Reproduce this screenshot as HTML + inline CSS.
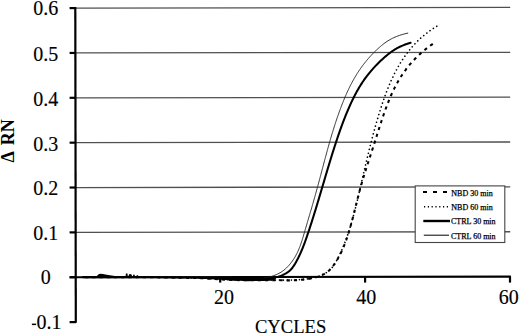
<!DOCTYPE html>
<html><head><meta charset="utf-8"><style>
html,body{margin:0;padding:0;background:#fff;width:520px;height:335px;overflow:hidden}
svg{display:block}
.g{stroke:#505050;stroke-width:1.3}
.ax{stroke:#000;stroke-width:2.2}
.yl,.xl{font-family:"Liberation Serif",serif;font-size:20px;text-anchor:middle;fill:#000;stroke:#000;stroke-width:0.15}
.lg{font-family:"Liberation Serif",serif;font-size:8px;fill:#000;stroke:#000;stroke-width:0.25}
.yt{font-family:'Liberation Serif',serif;font-weight:bold;font-size:18px;fill:#000}
.c{fill:none;stroke:#000;stroke-linecap:round;stroke-linejoin:round}
</style></head><body>
<svg width="520" height="335" viewBox="0 0 520 335">
<rect width="520" height="335" fill="#fff"/>
<line x1="76" y1="8.09" x2="510.2" y2="7.44" class="g"/>
<line x1="76" y1="52.95" x2="510.2" y2="52.30" class="g"/>
<line x1="76" y1="97.81" x2="510.2" y2="97.16" class="g"/>
<line x1="76" y1="142.67" x2="510.2" y2="142.02" class="g"/>
<line x1="76" y1="187.53" x2="510.2" y2="186.88" class="g"/>
<line x1="76" y1="232.39" x2="510.2" y2="231.74" class="g"/>

<line x1="75.3" y1="7.0" x2="75.8" y2="322.8" class="ax"/>
<line x1="69.6" y1="277.26" x2="510.9" y2="276.60" class="ax"/>
<line x1="69.6" y1="8.09" x2="76" y2="8.09" class="ax"/>
<line x1="69.6" y1="52.95" x2="76" y2="52.95" class="ax"/>
<line x1="69.6" y1="97.81" x2="76" y2="97.81" class="ax"/>
<line x1="69.6" y1="142.67" x2="76" y2="142.67" class="ax"/>
<line x1="69.6" y1="187.53" x2="76" y2="187.53" class="ax"/>
<line x1="69.6" y1="232.39" x2="76" y2="232.39" class="ax"/>
<line x1="69.6" y1="277.25" x2="76" y2="277.25" class="ax"/>
<line x1="69.6" y1="322.11" x2="76" y2="322.11" class="ax"/>
<line x1="220.2" y1="277.03" x2="220.2" y2="282.6" class="ax"/>
<line x1="365.1" y1="276.82" x2="365.1" y2="282.6" class="ax"/>
<line x1="510.0" y1="276.60" x2="510.0" y2="282.6" class="ax"/>

<path d="M96.3,277 C97.3,275 98.6,273.8 100.6,273.7 C103.5,273.7 107,274.8 111.5,275.6 C114,276 116,276.3 118.5,276.5 L118.5,277.2 L96.3,277.2 Z" fill="#000"/>
<path d="M125.6,276.5 L125.9,273.6 L127.5,273.6 L127.8,276.5 Z M128.4,276.5 C128.6,274.4 129.5,273.9 130.3,273.9 C131.2,273.9 131.9,274.5 132.1,276.5 Z M132.8,276.5 C133,275 133.5,274.6 133.9,274.6 C134.4,274.6 134.8,275 135,276.5 Z M135.9,276.6 C136.3,275.6 137,275.2 137.4,275.2 C137.9,275.2 138.4,275.6 138.6,276.6 Z" fill="#000"/>
<path d="M212,277 L216,278.4 C221,279.2 227,280.2 234,280.8 C240,281.2 250,281.2 262,281.0 L270,280.7 L274,280.1 L276,278.6 L276,277 Z" fill="#000"/>
<path d="M83.00,276.90 L97.00,276.90 L150.00,277.10 L200.00,277.60 L222.00,278.60 L240.00,279.20 L256.07,279.22 L258.48,278.97 L260.76,278.68 L262.91,278.35 L264.96,277.99 L266.89,277.59 L268.72,277.16 L270.44,276.70 L272.07,276.22 L273.60,275.70 L275.05,275.16 L276.41,274.59 L277.70,274.00 L278.91,273.39 L280.05,272.76 L281.13,272.11 L282.14,271.44 L283.11,270.75 L284.02,270.05 L284.88,269.33 L285.71,268.61 L286.50,267.87 L287.25,267.12 L287.98,266.36 L288.69,265.60 L289.37,264.83 L290.03,264.05 L290.68,263.27 L291.30,262.48 L291.89,261.68 L292.47,260.88 L293.04,260.07 L293.58,259.26 L294.10,258.44 L294.61,257.62 L295.10,256.79 L295.58,255.96 L296.04,255.12 L296.48,254.28 L296.91,253.43 L297.33,252.58 L297.73,251.73 L298.12,250.87 L298.50,250.01 L298.87,249.14 L299.23,248.28 L299.57,247.40 L299.91,246.53 L300.24,245.65 L300.56,244.77 L300.87,243.89 L301.17,243.01 L301.47,242.12 L301.76,241.23 L302.05,240.34 L302.33,239.45 L302.61,238.56 L302.88,237.67 L303.15,236.77 L303.41,235.88 L303.68,234.98 L303.94,234.08 L304.20,233.19 L304.47,232.29 L304.73,231.39 L304.99,230.50 L305.25,229.60 L305.52,228.70 L305.78,227.81 L306.04,226.91 L306.31,226.01 L306.57,225.12 L306.83,224.22 L307.10,223.33 L307.36,222.43 L307.63,221.53 L307.89,220.64 L308.15,219.74 L308.42,218.85 L308.68,217.95 L308.95,217.05 L309.21,216.16 L309.48,215.26 L309.74,214.36 L310.00,213.47 L310.27,212.57 L310.53,211.68 L310.79,210.78 L311.05,209.88 L311.32,208.99 L311.58,208.09 L311.84,207.19 L312.10,206.29 L312.36,205.40 L312.62,204.50 L312.88,203.60 L313.14,202.70 L313.39,201.81 L313.65,200.91 L313.91,200.01 L314.16,199.11 L314.42,198.21 L314.67,197.31 L314.93,196.41 L315.18,195.51 L315.43,194.61 L315.68,193.71 L315.93,192.81 L316.18,191.91 L316.43,191.01 L316.68,190.11 L316.92,189.21 L317.17,188.31 L317.42,187.41 L317.66,186.50 L317.91,185.60 L318.15,184.70 L318.39,183.80 L318.63,182.89 L318.88,181.99 L319.12,181.09 L319.36,180.19 L319.60,179.28 L319.84,178.38 L320.08,177.48 L320.32,176.57 L320.56,175.67 L320.80,174.77 L321.04,173.86 L321.28,172.96 L321.52,172.05 L321.75,171.15 L321.99,170.25 L322.23,169.34 L322.47,168.44 L322.71,167.54 L322.95,166.63 L323.19,165.73 L323.43,164.83 L323.67,163.92 L323.91,163.02 L324.15,162.12 L324.39,161.21 L324.63,160.31 L324.87,159.41 L325.11,158.50 L325.36,157.60 L325.60,156.70 L325.84,155.80 L326.09,154.89 L326.33,153.99 L326.58,153.09 L326.82,152.19 L327.07,151.29 L327.32,150.39 L327.56,149.48 L327.81,148.58 L328.06,147.68 L328.32,146.78 L328.57,145.88 L328.82,144.98 L329.07,144.09 L329.33,143.19 L329.58,142.29 L329.84,141.39 L330.10,140.49 L330.36,139.59 L330.62,138.70 L330.88,137.80 L331.15,136.90 L331.41,136.01 L331.68,135.11 L331.94,134.22 L332.21,133.32 L332.48,132.43 L332.76,131.53 L333.03,130.64 L333.31,129.75 L333.58,128.86 L333.86,127.96 L334.14,127.07 L334.42,126.18 L334.71,125.29 L335.00,124.40 L335.28,123.51 L335.57,122.63 L335.87,121.74 L336.16,120.85 L336.45,119.96 L336.75,119.08 L337.05,118.19 L337.36,117.31 L337.66,116.42 L337.97,115.54 L338.28,114.66 L338.59,113.78 L338.90,112.90 L339.22,112.01 L339.54,111.13 L339.86,110.26 L340.18,109.38 L340.51,108.50 L340.84,107.62 L341.17,106.75 L341.50,105.87 L341.84,105.00 L342.18,104.12 L342.52,103.25 L342.87,102.38 L343.22,101.51 L343.57,100.64 L343.92,99.77 L344.28,98.90 L344.64,98.04 L345.01,97.17 L345.38,96.31 L345.75,95.44 L346.13,94.58 L346.51,93.72 L346.90,92.86 L347.29,92.00 L347.68,91.15 L348.08,90.29 L348.49,89.44 L348.90,88.58 L349.31,87.73 L349.73,86.88 L350.15,86.03 L350.58,85.19 L351.02,84.34 L351.46,83.50 L351.90,82.66 L352.36,81.82 L352.81,80.98 L353.28,80.14 L353.75,79.31 L354.22,78.48 L354.70,77.64 L355.19,76.82 L355.69,75.99 L356.19,75.16 L356.70,74.34 L357.21,73.52 L357.73,72.70 L358.26,71.88 L358.80,71.07 L359.34,70.26 L359.89,69.45 L360.45,68.64 L361.02,67.84 L361.60,67.03 L362.18,66.23 L362.77,65.43 L363.37,64.64 L363.98,63.85 L364.59,63.05 L365.22,62.27 L365.85,61.48 L366.49,60.70 L367.14,59.92 L367.80,59.14 L368.47,58.37 L369.15,57.60 L369.84,56.83 L370.54,56.06 L371.25,55.30 L371.96,54.54 L372.69,53.78 L373.43,53.03 L374.18,52.28 L374.94,51.53 L375.71,50.78 L376.49,50.04 L377.28,49.30 L378.08,48.57 L378.89,47.84 L379.71,47.11 L380.55,46.38 L381.40,45.66 L382.26,44.95 L383.15,44.24 L384.06,43.54 L385.00,42.84 L385.97,42.16 L386.97,41.48 L388.00,40.82 L389.08,40.16 L390.19,39.52 L391.35,38.89 L392.55,38.28 L393.80,37.68 L395.11,37.10 L396.47,36.53 L397.89,35.98 L399.37,35.45 L400.91,34.94 L402.52,34.44 L404.20,33.97 L405.96,33.52 L407.78,33.10" class="c" stroke-width="0.9" style="stroke:#1a1a1a"/>
<path d="M83.00,277.10 L97.00,277.10 L150.00,277.20 L200.00,277.80 L222.00,278.80 L240.00,279.30 L262.10,279.33 L264.55,279.12 L266.87,278.88 L269.06,278.60 L271.12,278.28 L273.07,277.92 L274.91,277.53 L276.63,277.11 L278.25,276.66 L279.77,276.17 L281.19,275.66 L282.52,275.12 L283.77,274.55 L284.93,273.96 L286.01,273.35 L287.02,272.71 L287.96,272.05 L288.84,271.37 L289.66,270.68 L290.42,269.97 L291.12,269.24 L291.79,268.50 L292.41,267.75 L292.99,266.98 L293.54,266.21 L294.06,265.42 L294.56,264.63 L295.04,263.84 L295.50,263.03 L295.95,262.23 L296.39,261.42 L296.83,260.61 L297.26,259.80 L297.68,258.99 L298.09,258.17 L298.50,257.36 L298.90,256.54 L299.29,255.71 L299.68,254.89 L300.06,254.06 L300.43,253.24 L300.80,252.41 L301.16,251.58 L301.52,250.74 L301.87,249.91 L302.22,249.07 L302.56,248.24 L302.90,247.40 L303.23,246.56 L303.56,245.72 L303.88,244.87 L304.20,244.03 L304.52,243.19 L304.83,242.34 L305.14,241.49 L305.45,240.64 L305.75,239.80 L306.05,238.95 L306.35,238.10 L306.65,237.24 L306.94,236.39 L307.23,235.54 L307.52,234.69 L307.81,233.83 L308.10,232.98 L308.38,232.13 L308.67,231.27 L308.95,230.42 L309.23,229.56 L309.51,228.71 L309.79,227.85 L310.07,226.99 L310.35,226.14 L310.63,225.28 L310.90,224.42 L311.18,223.57 L311.46,222.71 L311.73,221.85 L312.00,220.99 L312.27,220.14 L312.55,219.28 L312.82,218.42 L313.09,217.56 L313.36,216.70 L313.63,215.84 L313.89,214.98 L314.16,214.12 L314.43,213.26 L314.69,212.40 L314.96,211.54 L315.22,210.68 L315.49,209.82 L315.75,208.96 L316.01,208.10 L316.28,207.24 L316.54,206.38 L316.80,205.52 L317.06,204.65 L317.32,203.79 L317.58,202.93 L317.84,202.07 L318.10,201.21 L318.36,200.35 L318.62,199.48 L318.88,198.62 L319.13,197.76 L319.39,196.90 L319.65,196.03 L319.91,195.17 L320.16,194.31 L320.42,193.44 L320.68,192.58 L320.93,191.72 L321.19,190.86 L321.44,189.99 L321.70,189.13 L321.95,188.27 L322.21,187.40 L322.46,186.54 L322.72,185.68 L322.97,184.81 L323.23,183.95 L323.48,183.09 L323.74,182.22 L323.99,181.36 L324.25,180.50 L324.51,179.63 L324.76,178.77 L325.02,177.91 L325.27,177.04 L325.53,176.18 L325.78,175.32 L326.04,174.45 L326.30,173.59 L326.55,172.73 L326.81,171.87 L327.07,171.00 L327.33,170.14 L327.58,169.28 L327.84,168.42 L328.10,167.55 L328.36,166.69 L328.62,165.83 L328.88,164.97 L329.14,164.11 L329.40,163.25 L329.67,162.38 L329.93,161.52 L330.19,160.66 L330.45,159.80 L330.72,158.94 L330.98,158.08 L331.25,157.22 L331.52,156.36 L331.78,155.50 L332.05,154.64 L332.32,153.78 L332.59,152.92 L332.86,152.06 L333.13,151.21 L333.40,150.35 L333.67,149.49 L333.95,148.63 L334.22,147.77 L334.50,146.92 L334.77,146.06 L335.05,145.20 L335.33,144.35 L335.61,143.49 L335.89,142.63 L336.17,141.78 L336.45,140.92 L336.74,140.07 L337.02,139.21 L337.31,138.36 L337.59,137.51 L337.88,136.65 L338.17,135.80 L338.46,134.95 L338.76,134.10 L339.05,133.25 L339.35,132.39 L339.65,131.54 L339.94,130.69 L340.25,129.84 L340.55,129.00 L340.85,128.15 L341.16,127.30 L341.47,126.45 L341.78,125.61 L342.09,124.76 L342.41,123.91 L342.72,123.07 L343.04,122.22 L343.36,121.38 L343.68,120.54 L344.01,119.70 L344.34,118.85 L344.67,118.01 L345.00,117.17 L345.33,116.33 L345.67,115.49 L346.01,114.66 L346.35,113.82 L346.70,112.98 L347.05,112.15 L347.40,111.31 L347.75,110.48 L348.10,109.65 L348.46,108.81 L348.83,107.98 L349.19,107.15 L349.56,106.32 L349.93,105.49 L350.30,104.67 L350.68,103.84 L351.06,103.01 L351.44,102.19 L351.83,101.37 L352.22,100.54 L352.62,99.72 L353.02,98.90 L353.42,98.08 L353.83,97.27 L354.24,96.45 L354.66,95.63 L355.08,94.82 L355.50,94.01 L355.94,93.20 L356.37,92.39 L356.82,91.58 L357.27,90.78 L357.72,89.97 L358.18,89.17 L358.65,88.37 L359.12,87.58 L359.60,86.78 L360.09,85.99 L360.58,85.19 L361.08,84.40 L361.58,83.62 L362.10,82.83 L362.62,82.05 L363.15,81.26 L363.68,80.49 L364.23,79.71 L364.78,78.93 L365.33,78.16 L365.90,77.39 L366.47,76.62 L367.05,75.86 L367.64,75.10 L368.24,74.33 L368.85,73.58 L369.46,72.82 L370.08,72.07 L370.71,71.32 L371.35,70.57 L371.99,69.82 L372.65,69.08 L373.31,68.34 L373.98,67.60 L374.66,66.86 L375.35,66.13 L376.04,65.40 L376.75,64.67 L377.46,63.94 L378.18,63.22 L378.91,62.50 L379.65,61.78 L380.40,61.07 L381.16,60.35 L381.93,59.64 L382.71,58.94 L383.49,58.23 L384.29,57.53 L385.09,56.83 L385.91,56.14 L386.73,55.45 L387.56,54.76 L388.41,54.07 L389.27,53.39 L390.16,52.71 L391.06,52.04 L391.98,51.38 L392.94,50.73 L393.92,50.08 L394.93,49.45 L395.98,48.82 L397.07,48.21 L398.19,47.61 L399.36,47.02 L400.58,46.44 L401.84,45.88 L403.15,45.34 L404.52,44.81 L405.94,44.29 L407.43,43.80 L408.97,43.32 L410.58,42.86" class="c" stroke-width="2.05"/>
<path d="M436.80,26.30 L435.69,26.97 L434.60,27.65 L433.53,28.34 L432.47,29.03 L431.44,29.72 L430.42,30.42 L429.42,31.13 L428.44,31.84 L427.47,32.56 L426.53,33.28 L425.60,34.01 L424.68,34.74 L423.78,35.47 L422.90,36.22 L422.03,36.96 L421.18,37.71 L420.34,38.47 L419.52,39.23 L418.71,39.99 L417.91,40.76 L417.13,41.53 L416.36,42.30 L415.61,43.08 L414.86,43.87 L414.13,44.65 L413.41,45.44 L412.71,46.24 L412.01,47.04 L411.33,47.84 L410.65,48.64 L409.99,49.45 L409.33,50.26 L408.69,51.07 L408.06,51.89 L407.43,52.70 L406.81,53.53 L406.21,54.35 L405.61,55.18 L405.02,56.01 L404.43,56.84 L403.86,57.67 L403.29,58.51 L402.73,59.34 L402.18,60.19 L401.64,61.03 L401.10,61.87 L400.57,62.72 L400.05,63.57 L399.54,64.42 L399.03,65.28 L398.53,66.13 L398.04,66.99 L397.55,67.85 L397.07,68.71 L396.60,69.58 L396.13,70.44 L395.67,71.31 L395.21,72.18 L394.76,73.05 L394.32,73.93 L393.88,74.80 L393.45,75.68 L393.03,76.56 L392.61,77.44 L392.19,78.32 L391.78,79.20 L391.38,80.09 L390.98,80.97 L390.59,81.86 L390.20,82.75 L389.81,83.64 L389.43,84.53 L389.06,85.43 L388.69,86.32 L388.32,87.22 L387.96,88.12 L387.60,89.01 L387.25,89.91 L386.90,90.82 L386.55,91.72 L386.21,92.62 L385.87,93.53 L385.53,94.43 L385.20,95.34 L384.87,96.24 L384.55,97.15 L384.22,98.06 L383.90,98.97 L383.59,99.88 L383.27,100.80 L382.96,101.71 L382.65,102.62 L382.34,103.54 L382.04,104.45 L381.74,105.37 L381.43,106.28 L381.14,107.20 L380.84,108.11 L380.55,109.03 L380.25,109.95 L379.96,110.87 L379.67,111.79 L379.39,112.71 L379.10,113.63 L378.82,114.55 L378.54,115.47 L378.26,116.40 L377.98,117.32 L377.71,118.24 L377.43,119.17 L377.16,120.09 L376.89,121.02 L376.62,121.94 L376.35,122.87 L376.09,123.79 L375.82,124.72 L375.56,125.65 L375.30,126.58 L375.04,127.50 L374.78,128.43 L374.53,129.36 L374.27,130.29 L374.02,131.22 L373.76,132.15 L373.51,133.08 L373.26,134.01 L373.01,134.95 L372.77,135.88 L372.52,136.81 L372.27,137.74 L372.03,138.68 L371.79,139.61 L371.54,140.54 L371.30,141.48 L371.06,142.41 L370.83,143.34 L370.59,144.28 L370.35,145.21 L370.11,146.15 L369.88,147.09 L369.64,148.02 L369.41,148.96 L369.18,149.89 L368.95,150.83 L368.72,151.77 L368.49,152.70 L368.26,153.64 L368.03,154.58 L367.80,155.52 L367.57,156.46 L367.35,157.39 L367.12,158.33 L366.90,159.27 L366.67,160.21 L366.45,161.15 L366.22,162.09 L366.00,163.03 L365.78,163.97 L365.56,164.91 L365.34,165.85 L365.11,166.79 L364.89,167.73 L364.67,168.67 L364.46,169.61 L364.24,170.55 L364.02,171.49 L363.80,172.43 L363.58,173.37 L363.36,174.31 L363.15,175.25 L362.93,176.19 L362.71,177.13 L362.50,178.07 L362.28,179.01 L362.06,179.96 L361.85,180.90 L361.63,181.84 L361.42,182.78 L361.20,183.72 L360.99,184.66 L360.77,185.60 L360.56,186.55 L360.34,187.49 L360.12,188.43 L359.91,189.37 L359.69,190.31 L359.48,191.25 L359.26,192.19 L359.04,193.14 L358.82,194.08 L358.60,195.02 L358.38,195.96 L358.16,196.90 L357.94,197.84 L357.72,198.78 L357.50,199.72 L357.27,200.65 L357.05,201.59 L356.82,202.53 L356.60,203.47 L356.37,204.41 L356.14,205.34 L355.90,206.28 L355.67,207.22 L355.44,208.15 L355.20,209.09 L354.96,210.02 L354.72,210.96 L354.48,211.89 L354.24,212.82 L353.99,213.76 L353.74,214.69 L353.49,215.62 L353.24,216.55 L352.99,217.48 L352.73,218.41 L352.47,219.34 L352.21,220.26 L351.94,221.19 L351.68,222.12 L351.41,223.04 L351.14,223.97 L350.86,224.89 L350.58,225.81 L350.30,226.74 L350.02,227.66 L349.73,228.58 L349.44,229.50 L349.15,230.41 L348.85,231.33 L348.55,232.25 L348.25,233.16 L347.94,234.08 L347.63,234.99 L347.31,235.90 L346.99,236.81 L346.67,237.72 L346.34,238.63 L346.01,239.53 L345.67,240.44 L345.33,241.34 L344.99,242.25 L344.64,243.15 L344.28,244.05 L343.92,244.94 L343.56,245.84 L343.19,246.74 L342.82,247.63 L342.44,248.52 L342.05,249.41 L341.66,250.30 L341.27,251.19 L340.86,252.08 L340.46,252.96 L340.04,253.84 L339.63,254.72 L339.20,255.60 L338.77,256.48 L338.33,257.35 L337.89,258.23 L337.44,259.10 L336.99,259.97 L336.52,260.84 L336.05,261.70 L335.57,262.56 L335.07,263.42 L334.55,264.27 L334.00,265.11 L333.42,265.94 L332.81,266.76 L332.16,267.57 L331.46,268.37 L330.72,269.16 L329.92,269.92 L329.07,270.67 L328.15,271.40 L327.17,272.12 L326.12,272.81 L325.00,273.48 L323.79,274.12 L322.51,274.74 L321.13,275.33 L319.66,275.90 L318.10,276.44 L316.43,276.94 L314.66,277.42 L312.78,277.86 L310.78,278.27 L308.66,278.64 L306.42,278.97 L304.05,279.27 L301.55,279.52 L298.92,279.74 L296.14,279.91 L293.21,280.04 L290.14,280.12 L286.91,280.16 L283.52,280.15 L279.97,280.09 L240.00,280.00 L222.00,279.40 L200.00,278.00 L150.00,277.20 L83.00,277.20" class="c" stroke-width="1.65" stroke-dasharray="0.01 4"/>
<path d="M432.77,43.89 L431.82,44.55 L430.87,45.21 L429.95,45.88 L429.03,46.54 L428.13,47.22 L427.24,47.90 L426.36,48.58 L425.50,49.26 L424.65,49.95 L423.81,50.64 L422.99,51.34 L422.17,52.04 L421.37,52.74 L420.58,53.45 L419.80,54.16 L419.03,54.87 L418.27,55.59 L417.52,56.31 L416.78,57.03 L416.05,57.76 L415.34,58.48 L414.63,59.22 L413.93,59.95 L413.24,60.69 L412.56,61.43 L411.90,62.17 L411.24,62.92 L410.59,63.67 L409.95,64.42 L409.32,65.17 L408.69,65.93 L408.08,66.69 L407.47,67.45 L406.88,68.22 L406.29,68.99 L405.71,69.76 L405.14,70.53 L404.58,71.30 L404.03,72.08 L403.48,72.86 L402.94,73.64 L402.41,74.43 L401.89,75.22 L401.37,76.01 L400.87,76.80 L400.36,77.59 L399.87,78.39 L399.39,79.19 L398.91,79.99 L398.43,80.79 L397.97,81.59 L397.51,82.40 L397.06,83.21 L396.61,84.02 L396.17,84.83 L395.74,85.64 L395.31,86.46 L394.89,87.28 L394.48,88.10 L394.07,88.92 L393.66,89.74 L393.27,90.56 L392.87,91.39 L392.49,92.22 L392.10,93.05 L391.72,93.88 L391.35,94.71 L390.98,95.54 L390.62,96.38 L390.26,97.21 L389.91,98.05 L389.56,98.89 L389.21,99.73 L388.87,100.57 L388.53,101.41 L388.19,102.26 L387.86,103.10 L387.53,103.95 L387.21,104.79 L386.88,105.64 L386.56,106.49 L386.25,107.34 L385.93,108.19 L385.62,109.04 L385.31,109.89 L385.01,110.74 L384.70,111.59 L384.40,112.45 L384.10,113.30 L383.80,114.16 L383.51,115.01 L383.22,115.87 L382.92,116.72 L382.63,117.58 L382.35,118.44 L382.06,119.30 L381.77,120.16 L381.49,121.01 L381.21,121.87 L380.93,122.73 L380.65,123.59 L380.37,124.45 L380.09,125.31 L379.82,126.18 L379.54,127.04 L379.27,127.90 L378.99,128.76 L378.72,129.62 L378.44,130.48 L378.17,131.35 L377.90,132.21 L377.63,133.07 L377.35,133.93 L377.08,134.79 L376.81,135.66 L376.54,136.52 L376.27,137.38 L375.99,138.24 L375.72,139.11 L375.45,139.97 L375.17,140.83 L374.90,141.69 L374.62,142.55 L374.35,143.41 L374.07,144.27 L373.79,145.13 L373.51,145.99 L373.23,146.86 L372.95,147.72 L372.67,148.58 L372.39,149.44 L372.11,150.30 L371.83,151.15 L371.55,152.01 L371.27,152.87 L370.99,153.73 L370.71,154.59 L370.43,155.45 L370.15,156.31 L369.87,157.17 L369.58,158.03 L369.30,158.89 L369.02,159.75 L368.74,160.61 L368.46,161.47 L368.18,162.33 L367.91,163.19 L367.63,164.05 L367.35,164.91 L367.07,165.77 L366.80,166.64 L366.52,167.50 L366.25,168.36 L365.97,169.22 L365.70,170.08 L365.43,170.94 L365.16,171.81 L364.89,172.67 L364.62,173.53 L364.36,174.40 L364.09,175.26 L363.83,176.13 L363.56,176.99 L363.30,177.86 L363.04,178.72 L362.78,179.59 L362.53,180.46 L362.27,181.32 L362.02,182.19 L361.77,183.06 L361.52,183.93 L361.27,184.80 L361.02,185.67 L360.78,186.54 L360.54,187.41 L360.30,188.28 L360.06,189.16 L359.83,190.03 L359.59,190.90 L359.36,191.78 L359.13,192.65 L358.90,193.53 L358.68,194.41 L358.45,195.28 L358.23,196.16 L358.00,197.04 L357.78,197.91 L357.56,198.79 L357.34,199.67 L357.12,200.55 L356.90,201.42 L356.68,202.30 L356.46,203.18 L356.25,204.06 L356.03,204.94 L355.81,205.82 L355.59,206.70 L355.37,207.57 L355.16,208.45 L354.94,209.33 L354.72,210.21 L354.50,211.09 L354.28,211.97 L354.06,212.84 L353.84,213.72 L353.62,214.60 L353.39,215.48 L353.17,216.35 L352.94,217.23 L352.72,218.10 L352.49,218.98 L352.26,219.85 L352.03,220.73 L351.79,221.60 L351.56,222.48 L351.32,223.35 L351.08,224.22 L350.84,225.09 L350.60,225.96 L350.35,226.83 L350.11,227.70 L349.86,228.57 L349.60,229.44 L349.35,230.31 L349.09,231.17 L348.83,232.04 L348.56,232.90 L348.29,233.77 L348.02,234.63 L347.75,235.49 L347.47,236.35 L347.18,237.21 L346.90,238.07 L346.60,238.92 L346.31,239.78 L346.00,240.63 L345.70,241.48 L345.39,242.33 L345.07,243.18 L344.74,244.03 L344.41,244.88 L344.08,245.72 L343.74,246.56 L343.39,247.40 L343.03,248.24 L342.67,249.07 L342.30,249.90 L341.92,250.73 L341.53,251.56 L341.14,252.39 L340.74,253.21 L340.33,254.03 L339.91,254.85 L339.49,255.67 L339.05,256.48 L338.61,257.29 L338.15,258.10 L337.69,258.91 L337.22,259.71 L336.73,260.51 L336.24,261.30 L335.74,262.09 L335.22,262.88 L334.70,263.67 L334.16,264.45 L333.61,265.23 L333.04,266.01 L332.45,266.77 L331.84,267.53 L331.19,268.28 L330.51,269.02 L329.79,269.75 L329.02,270.46 L328.21,271.17 L327.35,271.85 L326.43,272.52 L325.45,273.17 L324.40,273.80 L323.29,274.41 L322.10,275.00 L320.84,275.56 L319.49,276.10 L318.06,276.61 L316.53,277.10 L314.92,277.56 L313.20,277.99 L311.38,278.39 L309.45,278.75 L307.41,279.09 L305.26,279.38 L302.99,279.64 L300.59,279.87 L298.06,280.05 L295.40,280.20 L292.60,280.30 L289.66,280.37 L286.58,280.39 L283.34,280.36 L279.96,280.29 L240.00,280.20 L222.00,279.60 L200.00,278.10 L150.00,277.20 L83.00,277.20" class="c" stroke-width="2.05" style="stroke-linecap:butt" stroke-dasharray="3.2 4"/>
<text x="45.8" y="15.13" class="yl">0.6</text>
<text x="45.8" y="60.89" class="yl">0.5</text>
<text x="45.8" y="105.85" class="yl">0.4</text>
<text x="45.8" y="150.51" class="yl">0.3</text>
<text x="45.8" y="195.47" class="yl">0.2</text>
<text x="45.8" y="240.33" class="yl">0.1</text>
<text x="45.8" y="284.10" class="yl">0</text>
<text x="49.0" y="329.16" class="yl">0.1</text>
<rect x="31.9" y="323.6" width="4.2" height="1.5" fill="#000"/>
<text x="224.1" y="303.6" class="xl">20</text>
<text x="366.2" y="303.6" class="xl">40</text>
<text x="508.8" y="303.6" class="xl">60</text>

<text x="290.6" y="333.0" class="xl" style="font-size:18.6px">CYCLES</text>
<text transform="translate(14.3,162.4) rotate(-90)" class="yt">&#916;</text>
<text transform="translate(14.3,145.2) rotate(-90)" class="yt">RN</text>
<rect x="415.2" y="185.9" width="89.6" height="56.6" fill="#fff" stroke="#444" stroke-width="1.1"/>
<line x1="423" y1="192" x2="450" y2="192" stroke="#000" stroke-width="2.2" stroke-dasharray="4 6"/>
<line x1="424" y1="206.8" x2="450" y2="206.8" stroke="#000" stroke-width="1.6" stroke-dasharray="1.2 2.6"/>
<line x1="423.3" y1="221" x2="450" y2="221" stroke="#000" stroke-width="2.4"/>
<line x1="423.8" y1="235.2" x2="449" y2="235.2" stroke="#000" stroke-width="1"/>
<text x="451.3" y="195.6" class="lg">NBD 30 min</text>
<text x="451.3" y="209.8" class="lg">NBD 60 min</text>
<text x="451" y="224.1" class="lg">CTRL 30 min</text>
<text x="451" y="238.5" class="lg">CTRL 60 min</text>
</svg>
</body></html>
